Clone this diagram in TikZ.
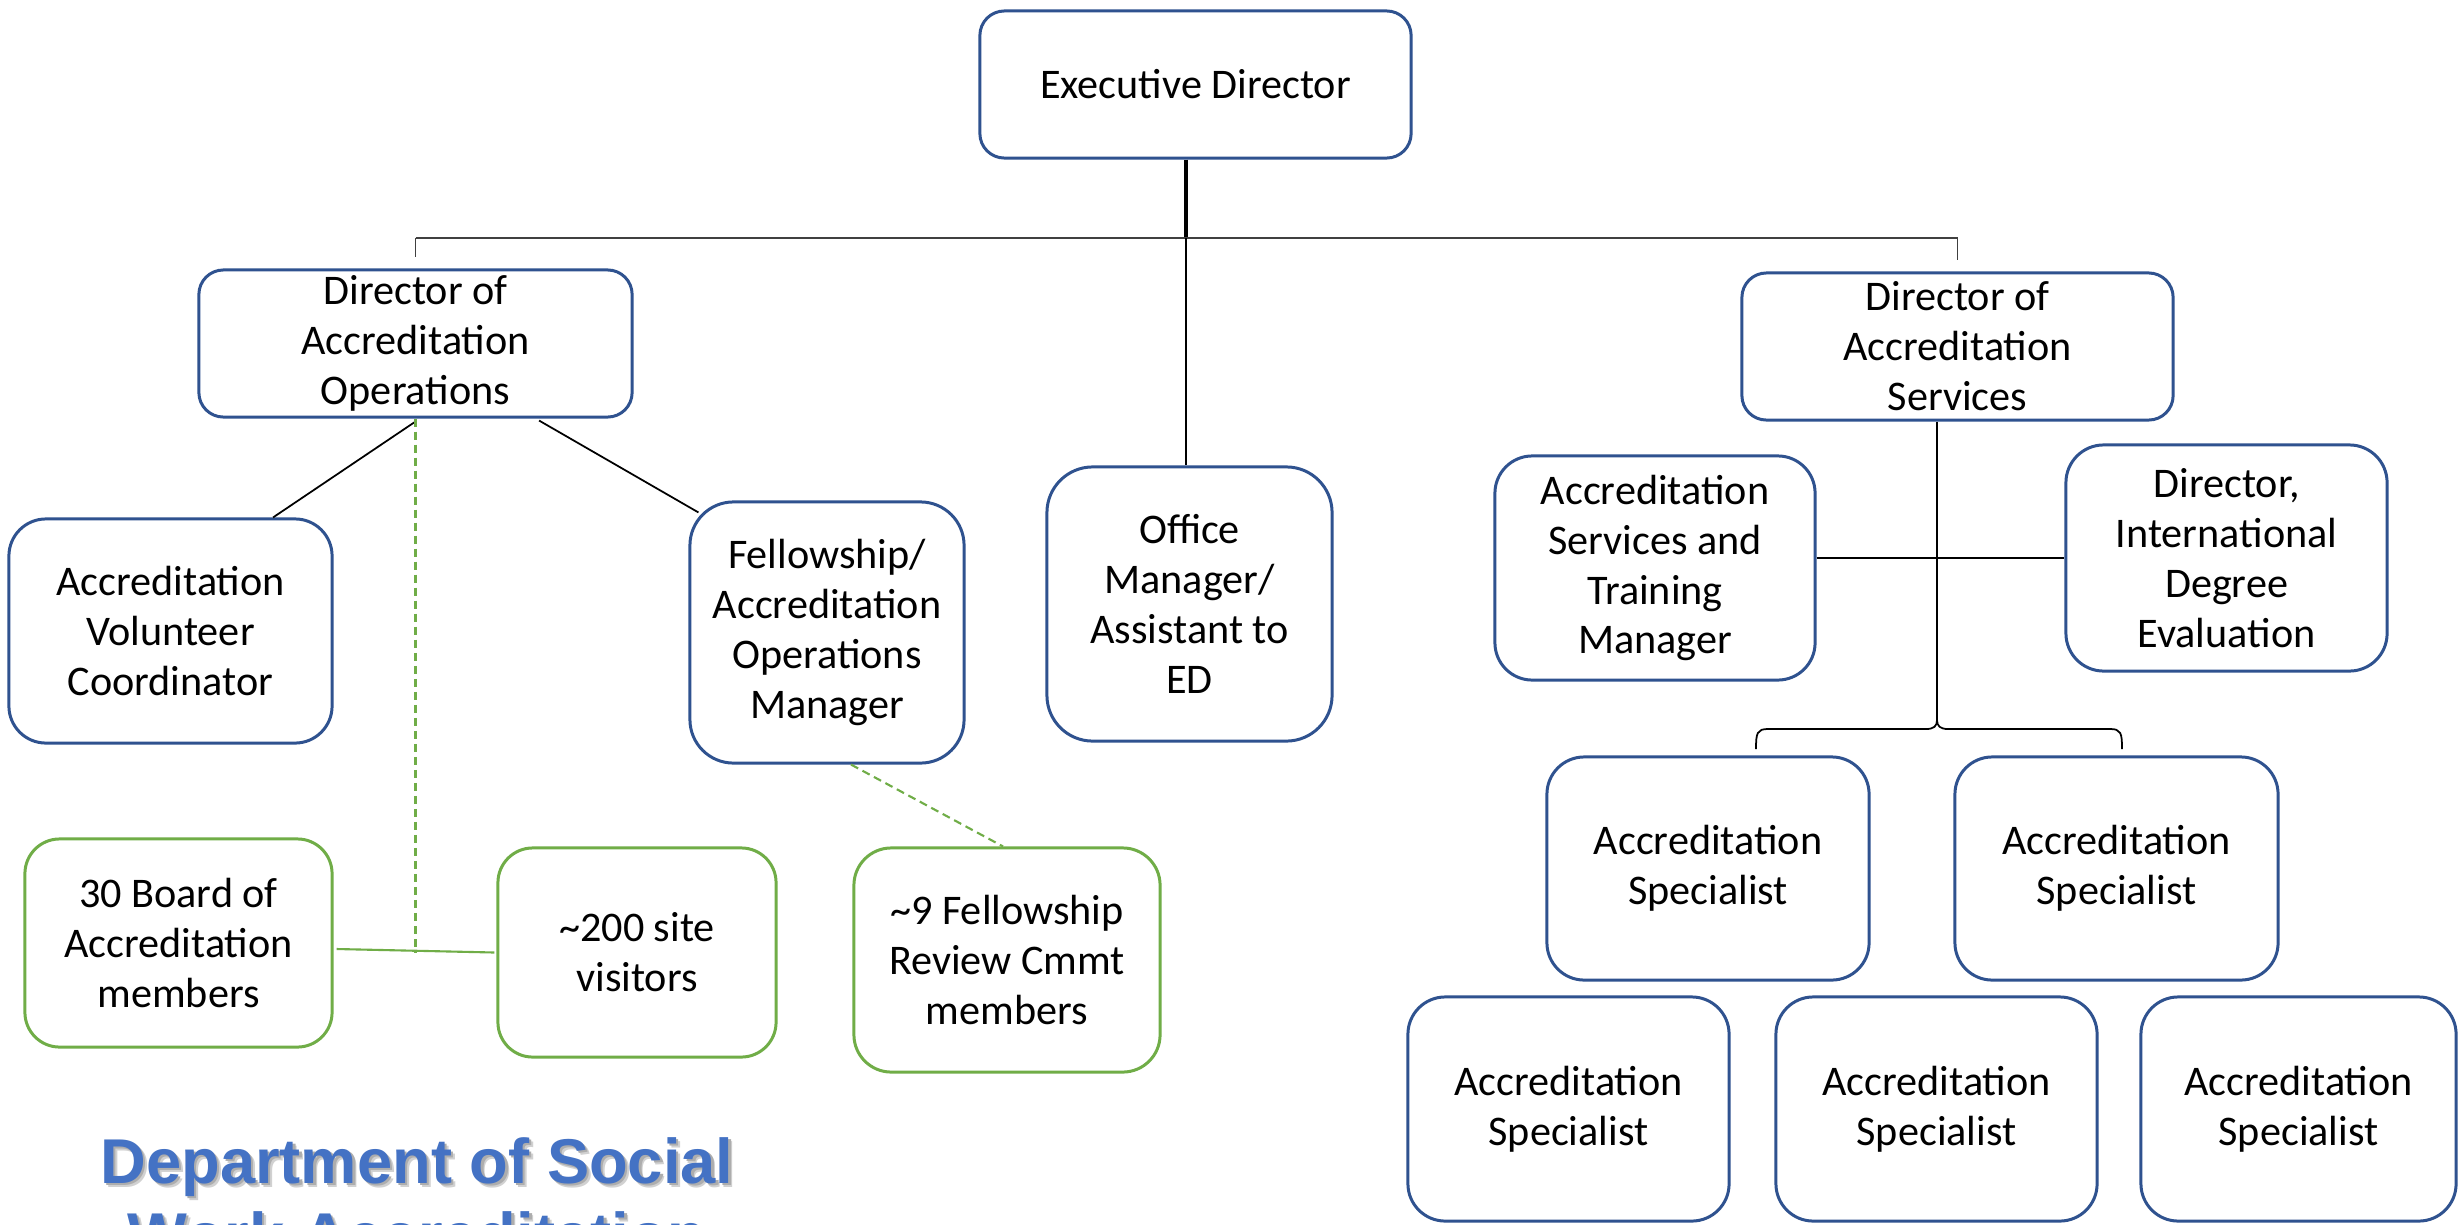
\documentclass[tikz,border=0pt]{standalone}
\usepackage{fontspec}
\setmainfont{Carlito}
\newfontfamily\titlefont{Liberation Sans}
\definecolor{boxblue}{RGB}{47,82,143}
\definecolor{grn}{RGB}{112,173,71}
\definecolor{ttl}{RGB}{68,114,196}
\begin{document}
\begin{tikzpicture}[x=0.01cm,y=-0.01cm,
  box/.style={draw=boxblue,line width=0.85pt,fill=white,inner sep=0pt,align=center,font=\fontsize{12}{14.2}\selectfont},
  gbox/.style={box,draw=grn},
  conn/.style={line width=0.5pt,black},
  gdash/.style={grn,line width=0.6pt,dash pattern=on 2.3pt off 1.4pt},
  ttlfont/.style={font=\titlefont\bfseries\fontsize{18}{21}\selectfont}
]
\useasboundingbox (0,0) rectangle (2458,1224);
\fill[white] (0,0) rectangle (2458,1224);
\clip (0,0) rectangle (2458,1224);

% nodes
\node[box,minimum width=4.31cm,minimum height=1.47cm,rounded corners=0.245cm] (ED) at (1195.5,84.5) {Executive Director};
\node[box,minimum width=4.33cm,minimum height=1.47cm,rounded corners=0.245cm] (DAO) at (415.5,343.5) {Director of\\Accreditation\\Operations};
\node[box,minimum width=4.31cm,minimum height=1.47cm,rounded corners=0.245cm] (DAS) at (1957.5,346.5) {Director of\\Accreditation\\Services};
\node[box,minimum width=2.85cm,minimum height=2.74cm,rounded corners=0.457cm] (OM) at (1189.5,604) {Office\\Manager/\\Assistant to\\ED};
\node[box,minimum width=3.23cm,minimum height=2.24cm,rounded corners=0.37cm] (AVC) at (170.5,631) {Accreditation\\Volunteer\\Coordinator};
\node[box,minimum width=2.74cm,minimum height=2.61cm,rounded corners=0.435cm] (FAOM) at (827,632.5) {Fellowship/\\Accreditation\\Operations\\Manager};
\node[gbox,minimum width=3.07cm,minimum height=2.08cm,rounded corners=0.347cm] (Board) at (178.5,943) {30 Board of\\Accreditation\\members};
\node[gbox,minimum width=2.78cm,minimum height=2.09cm,rounded corners=0.348cm] (Visit) at (637,952.5) {\textasciitilde200 site\\visitors};
\node[gbox,minimum width=3.06cm,minimum height=2.24cm,rounded corners=0.373cm] (Nine) at (1007,960) {\textasciitilde9 Fellowship\\Review Cmmt\\members};
\node[box,minimum width=3.20cm,minimum height=2.24cm,rounded corners=0.373cm] (ASTM) at (1655,568) {Accreditation\\Services and\\Training\\Manager};
\node[box,minimum width=3.21cm,minimum height=2.26cm,rounded corners=0.377cm] (DIDE) at (2226.5,558) {Director,\\International\\Degree\\Evaluation};
\node[box,minimum width=3.22cm,minimum height=2.23cm,rounded corners=0.373cm] (S1) at (1708,868.5) {Accreditation\\Specialist};
\node[box,minimum width=3.23cm,minimum height=2.23cm,rounded corners=0.373cm] (S2) at (2116.5,868.5) {Accreditation\\Specialist};
\node[box,minimum width=3.21cm,minimum height=2.24cm,rounded corners=0.373cm] (S3) at (1568.5,1109) {Accreditation\\Specialist};
\node[box,minimum width=3.21cm,minimum height=2.24cm,rounded corners=0.373cm] (S4) at (1936.5,1109) {Accreditation\\Specialist};
\node[box,minimum width=3.15cm,minimum height=2.24cm,rounded corners=0.373cm] (S5) at (2298.5,1109) {Accreditation\\Specialist};

% top tree
\coordinate (hub) at (1186,238);
\draw[line width=1.3pt,black] (ED.south -| hub) -- (hub);
\draw[line width=0.5pt,black!75] (DAO.north |- hub) -- (DAS.north |- hub);
\draw[line width=0.5pt,black!75] (DAO.north |- hub) -- ([yshift=0.11cm]DAO.north);
\draw[line width=0.5pt,black!75] (DAS.north |- hub) -- ([yshift=0.11cm]DAS.north);
\draw[conn] (hub) -- (hub |- OM.north);

% operations branch
\draw[conn] ([yshift=-0.03cm]DAO.south) -- ([xshift=1.025cm]AVC.north);
\draw[conn] ([xshift=1.235cm,yshift=-0.02cm]DAO.south) -- ([xshift=0.1cm,yshift=-0.12cm]FAOM.north west);
\draw[gdash] (DAO.south) -- (DAO.south |- Visit.west);
\draw[grn,line width=0.6pt] ([xshift=0.03cm,yshift=-0.06cm]Board.east) -- ([xshift=-0.02cm]Visit.west);
\draw[gdash] ([xshift=0.24cm]FAOM.south) -- ([xshift=-0.04cm]Nine.north);

% services branch
\coordinate (bt) at (1937,720);
\coordinate (bl) at (1756,749);
\coordinate (br) at (2122,749);
\draw[conn] (DAS.south -| bt) -- (bt);
\draw[conn] (ASTM.east |- DIDE.west) -- (DIDE.west);
\draw[conn] (bl) .. controls (1756,733) and (1757,729) .. (1768,729) -- (1926,729)
  .. controls (1934,729) and (1937,726) .. (bt)
  .. controls (1937,726) and (1940,729) .. (1948,729) -- (2110,729)
  .. controls (2121,729) and (2122,733) .. (br);

% title with shadow
\node[ttlfont,anchor=north,align=center,inner sep=0pt,text=black!18] (tsh2) at (421,1141) {Department of Social\\Work Accreditation};
\node[ttlfont,anchor=north,align=center,inner sep=0pt,text=black!32] (tsh1) at (419.5,1139) {Department of Social\\Work Accreditation};
\node[ttlfont,anchor=north,align=center,inner sep=0pt,text=ttl] (title) at (417,1137) {Department of Social\\Work Accreditation};
\end{tikzpicture}
\end{document}
